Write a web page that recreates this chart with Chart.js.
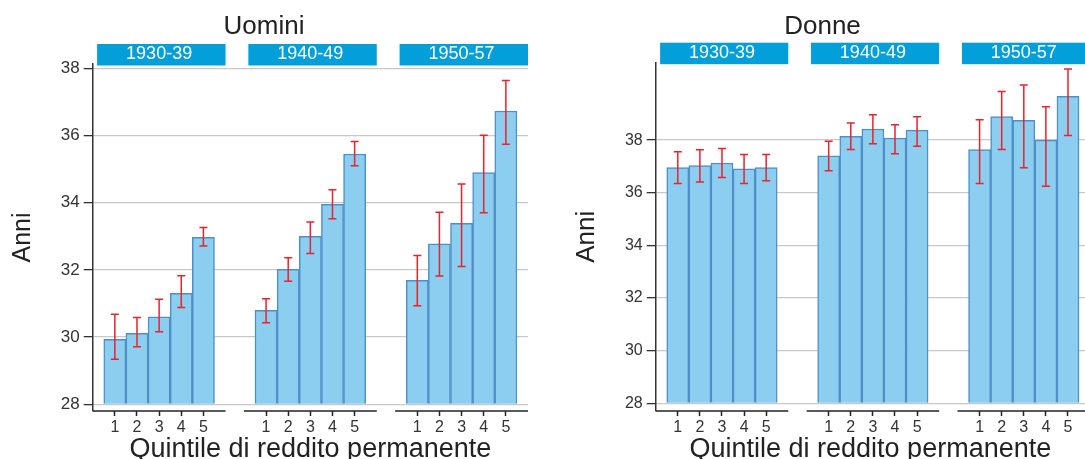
<!DOCTYPE html>
<html>
<head>
<meta charset="utf-8">
<script src="https://cdn.jsdelivr.net/npm/chart.js@4/dist/chart.umd.min.js"></script>
<style>
  html, body { margin: 0; padding: 0; background: #fff; }
  #wrap { position: relative; width: 1085px; height: 459px; overflow: hidden; }
  .panel { position: absolute; top: 0; width: 620px; height: 470px; }
  #pU { left: 0; }
  #pD { left: 560px; }
</style>
</head>
<body>
<div id="wrap">
  <div class="panel" id="pU"><canvas id="cU" width="620" height="470"></canvas></div>
  <div class="panel" id="pD"><canvas id="cD" width="620" height="470"></canvas></div>
</div>
<script>
// Categories
const coorti = ['1930-39', '1940-49', '1950-57'];
const quintili = ['1', '2', '3', '4', '5'];
const yTicks = [28, 30, 32, 34, 36, 38];

// Uomini: mean age and interval bounds per income quintile
const uomini1930 = [29.93, 30.11, 30.60, 31.30, 32.97];
const uomini1930Lo = [29.34, 29.71, 30.16, 30.88, 32.71];
const uomini1930Hi = [30.68, 30.58, 31.13, 31.83, 33.26];
const uomini1940 = [30.80, 32.02, 33.00, 33.95, 35.45];
const uomini1940Lo = [30.43, 31.66, 32.49, 33.52, 35.10];
const uomini1940Hi = [31.14, 32.36, 33.43, 34.39, 35.82];
const uomini1950 = [31.69, 32.78, 33.39, 34.90, 36.73];
const uomini1950Lo = [30.93, 31.82, 32.10, 33.70, 35.74];
const uomini1950Hi = [32.43, 33.72, 34.56, 36.01, 37.64];

// Donne
const donne1930 = [36.96, 37.03, 37.13, 36.91, 36.96];
const donne1930Lo = [36.35, 36.41, 36.58, 36.35, 36.46];
const donne1930Hi = [37.56, 37.63, 37.68, 37.45, 37.45];
const donne1940 = [37.40, 38.14, 38.42, 38.08, 38.38];
const donne1940Lo = [36.84, 37.64, 37.86, 37.48, 37.77];
const donne1940Hi = [37.96, 38.65, 38.96, 38.58, 38.89];
const donne1950 = [37.64, 38.89, 38.75, 38.00, 39.66];
const donne1950Lo = [36.35, 37.64, 36.95, 36.25, 38.17];
const donne1950Hi = [38.77, 39.85, 40.09, 39.27, 40.70];

// Spacing between cohort groups, in bar widths
const GROUP_STEP = 6.83;
const FONT = "'Liberation Sans', Arial, Helvetica, sans-serif";

Chart.defaults.font.family = FONT;
Chart.defaults.color = '#333';

// Red interval whiskers over each bar
const errorBars = {
  id: 'errorBars',
  afterDatasetsDraw(chart, args, opts) {
    const { ctx } = chart;
    const y = chart.scales.y;
    chart.data.datasets.forEach((ds, di) => {
      const meta = chart.getDatasetMeta(di);
      meta.data.forEach((bar, i) => {
        const lo = y.getPixelForValue(ds.errLo[i]);
        const hi = y.getPixelForValue(ds.errHi[i]);
        ctx.save();
        ctx.strokeStyle = opts.color;
        ctx.lineWidth = opts.width;
        ctx.beginPath();
        ctx.moveTo(bar.x, lo); ctx.lineTo(bar.x, hi);
        ctx.moveTo(bar.x - opts.cap, lo); ctx.lineTo(bar.x + opts.cap, lo);
        ctx.moveTo(bar.x - opts.cap, hi); ctx.lineTo(bar.x + opts.cap, hi);
        ctx.stroke();
        ctx.restore();
      });
    });
  }
};

// Cohort strip headers and per-cohort x axis segments
const facets = {
  id: 'facets',
  afterDraw(chart, args, opts) {
    const { ctx, chartArea: a } = chart;
    const x = chart.scales.x;
    const unit = x.getPixelForValue(1) - x.getPixelForValue(0);
    ctx.save();
    opts.labels.forEach((lab, g) => {
      const c = x.getPixelForValue(g * GROUP_STEP + 3);
      const x0 = Math.max(a.left, c - 3 * unit);
      const x1 = Math.min(a.right, c + 3 * unit);
      ctx.strokeStyle = '#222';
      ctx.lineWidth = 1.5;
      ctx.beginPath();
      ctx.moveTo(x0, a.bottom);
      ctx.lineTo(x1, a.bottom);
      ctx.stroke();

      const s0 = c - 2.8 * unit;
      const s1 = Math.min(c + 3 * unit, a.right);
      ctx.fillStyle = opts.stripColor;
      ctx.fillRect(s0, a.top - 20, s1 - s0, 21.5);
      ctx.fillStyle = '#fff';
      ctx.font = '18px ' + FONT;
      ctx.textAlign = 'center';
      ctx.textBaseline = 'middle';
      ctx.fillText(lab, c, a.top - 9.5);
    });
    ctx.restore();
  }
};

function barPoints(series) {
  const pts = [];
  series.forEach((vals, g) => {
    vals.forEach((v, i) => pts.push({ x: g * GROUP_STEP + i + 1, y: v }));
  });
  return pts;
}

function makePanel(canvasId, cfg) {
  return new Chart(document.getElementById(canvasId), {
    type: 'bar',
    data: {
      datasets: [{
        label: cfg.title,
        data: barPoints(cfg.values),
        errLo: [].concat(...cfg.lo),
        errHi: [].concat(...cfg.hi),
        base: 28,
        backgroundColor: '#8ccef0',
        borderColor: '#4f8fc8',
        borderWidth: 1.5,
        barPercentage: 1,
        categoryPercentage: 1
      }]
    },
    options: {
      responsive: false,
      animation: false,
      layout: { padding: { left: 0, right: cfg.padRight, top: 0, bottom: 0 } },
      plugins: {
        legend: { display: false },
        tooltip: { enabled: false },
        title: {
          display: true,
          text: cfg.title,
          color: '#222',
          font: { size: 26, weight: 'normal', family: FONT },
          padding: { top: 11, bottom: cfg.titleGap }
        },
        errorBars: { color: '#e8232c', width: 1.5, cap: 4 },
        facets: { labels: coorti, stripColor: '#039fdb' }
      },
      scales: {
        x: {
          type: 'linear',
          offset: false,
          min: 0,
          max: cfg.xMax,
          afterBuildTicks: (axis) => {
            const t = [];
            coorti.forEach((c, g) => quintili.forEach((q, i) => t.push({ value: g * GROUP_STEP + i + 1 })));
            axis.ticks = t;
          },
          afterFit: (axis) => { axis.height = 59; },
          border: { display: false },
          grid: { offset: false, drawOnChartArea: false, drawTicks: true, tickLength: 5, tickColor: '#222', tickWidth: 1.5 },
          ticks: {
            autoSkip: false,
            maxRotation: 0,
            padding: 1.5,
            color: '#333',
            font: { size: 16 },
            callback: (v, i) => quintili[i % quintili.length]
          },
          title: {
            display: true,
            text: 'Quintile di reddito permanente',
            color: '#222',
            font: { size: 27 },
            padding: { top: 0, bottom: 3.8 }
          }
        },
        y: {
          min: cfg.yMin,
          max: cfg.yMax,
          afterBuildTicks: (axis) => { axis.ticks = yTicks.map(v => ({ value: v })); },
          afterFit: (axis) => { axis.width = cfg.yWidth; },
          border: { display: true, color: '#333', width: 1.5 },
          grid: { color: '#c8c8c8', lineWidth: 1.3, tickColor: '#333', tickLength: 9, tickWidth: 1.3 },
          ticks: { padding: 4, color: '#333', font: { size: cfg.yFont } },
          title: {
            display: true,
            text: 'Anni',
            color: '#222',
            font: { size: cfg.yTitleFont },
            padding: { top: cfg.yTitlePad, bottom: 0 }
          }
        }
      }
    },
    plugins: [errorBars, facets]
  });
}

makePanel('cU', {
  title: 'Uomini',
  values: [uomini1930, uomini1940, uomini1950],
  lo: [uomini1930Lo, uomini1940Lo, uomini1950Lo],
  hi: [uomini1930Hi, uomini1940Hi, uomini1950Hi],
  yMin: 27.80, yMax: 38.13,
  xMax: 19.66,
  yWidth: 92.7, padRight: 92,
  titleGap: 21.8,
  yFont: 17, yTitleFont: 25, yTitlePad: 8
});

makePanel('cD', {
  title: 'Donne',
  values: [donne1930, donne1940, donne1950],
  lo: [donne1930Lo, donne1940Lo, donne1950Lo],
  hi: [donne1930Hi, donne1940Hi, donne1950Hi],
  yMin: 27.71, yMax: 40.94,
  xMax: 19.43,
  yWidth: 95.7, padRight: 95,
  titleGap: 20.5,
  yFont: 16, yTitleFont: 26, yTitlePad: 11
});
</script>
</body>
</html>
